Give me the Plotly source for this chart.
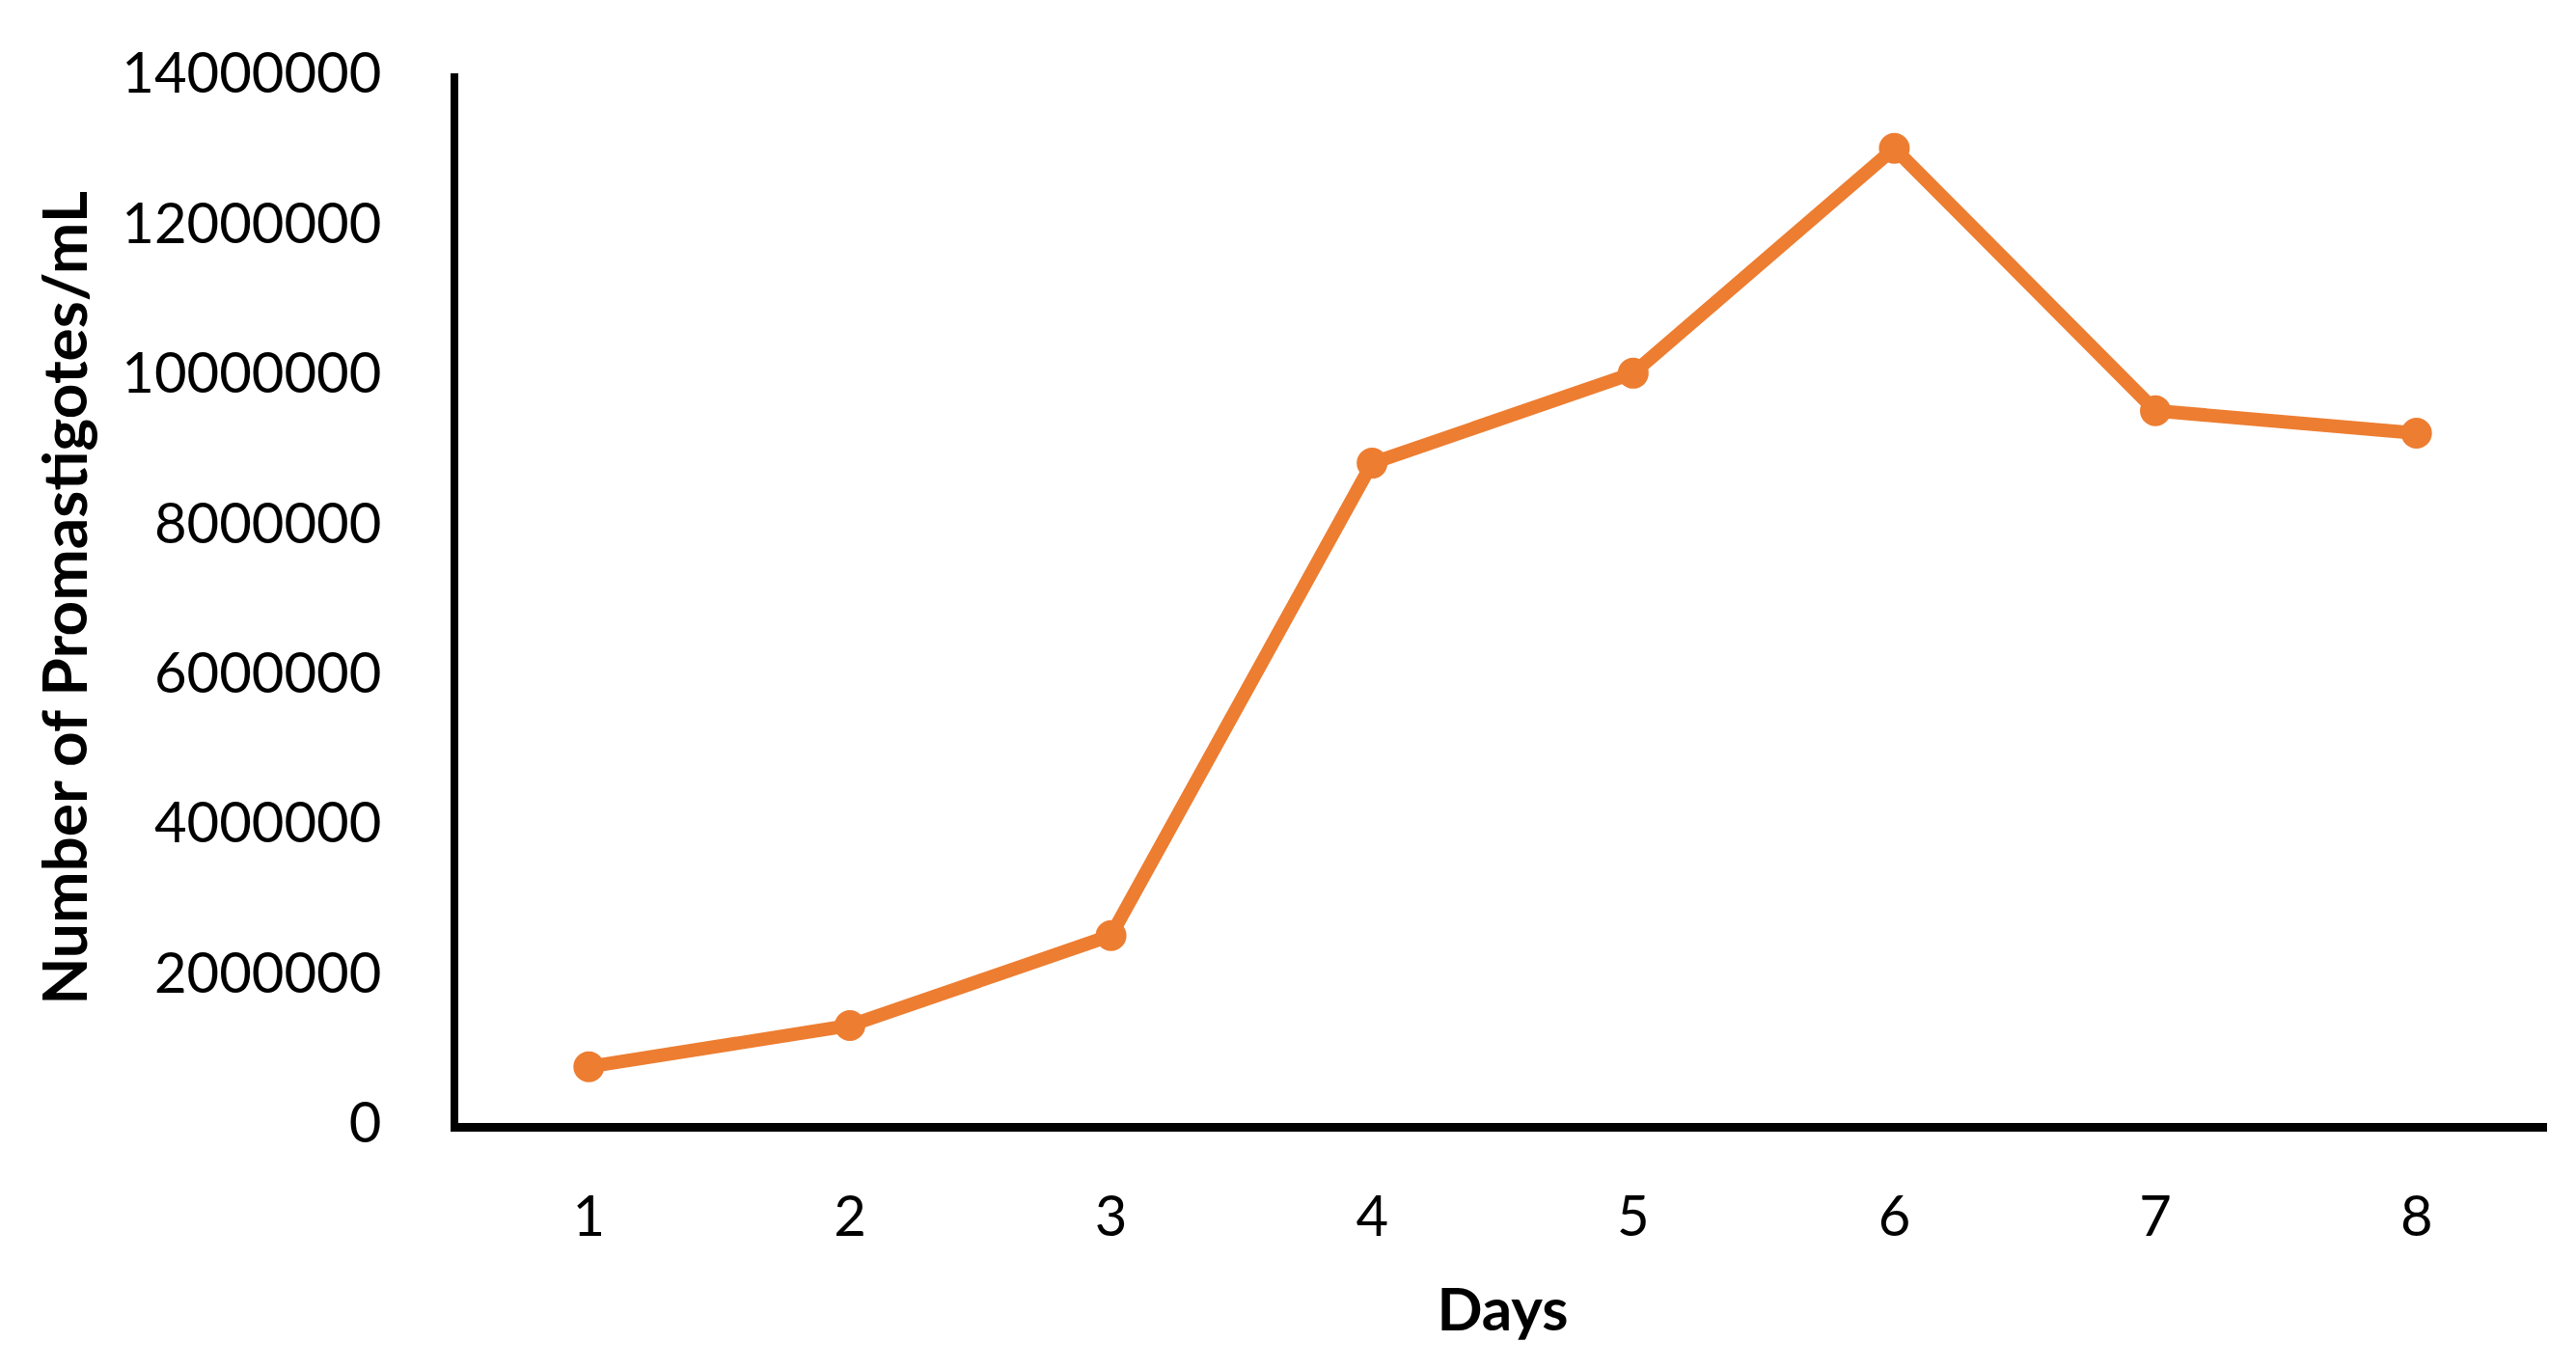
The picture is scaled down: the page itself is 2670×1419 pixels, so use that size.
import plotly.graph_objects as go

days = [1, 2, 3, 4, 5, 6, 7, 8]
promastigotes = [750000, 1300000, 2500000, 8800000, 10000000, 13000000, 9500000, 9200000]
y_ticks = [0, 2000000, 4000000, 6000000, 8000000, 10000000, 12000000, 14000000]

ORANGE = "#ED7D31"
FONT = "Lato"

fig = go.Figure()
fig.add_trace(go.Scatter(
    x=days, y=promastigotes, mode="lines+markers",
    line=dict(color=ORANGE, width=14),
    marker=dict(color=ORANGE, size=32),
    showlegend=False,
))

fig.update_layout(
    width=2670, height=1419,
    margin=dict(l=467, r=38, t=68, b=263),
    paper_bgcolor="white", plot_bgcolor="white",
    font=dict(family=FONT, color="black", size=58),
)
fig.update_xaxes(
    range=[0.5, 8.5], tickvals=days, ticktext=[str(d) for d in days],
    showgrid=False, zeroline=False,
    showline=True, linecolor="black", linewidth=9,
    ticks="", ticklabelstandoff=38,
    tickfont=dict(family=FONT, size=58),
    title=dict(text="<b>Days</b>", font=dict(family=FONT, size=62), standoff=48),
)
fig.update_yaxes(
    range=[0, 14000000], tickvals=y_ticks, ticktext=[str(v) for v in y_ticks],
    showgrid=False, zeroline=False,
    showline=True, linecolor="black", linewidth=8,
    ticks="", ticklabelstandoff=60,
    tickfont=dict(family=FONT, size=58),
    title=dict(text="<b>Number of Promastigotes/mL</b>", font=dict(family=FONT, size=64), standoff=18),
)

fig.write_html("out.html")
